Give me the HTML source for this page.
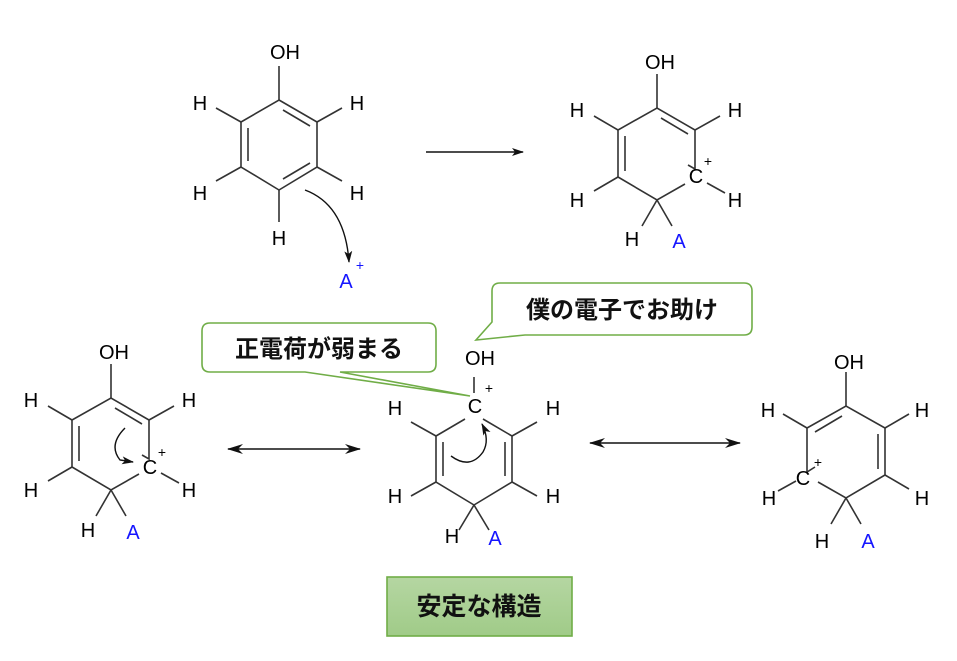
<!DOCTYPE html>
<html><head><meta charset="utf-8"><style>
body{margin:0;background:#fff;width:957px;height:661px;overflow:hidden}
svg{display:block}
.b{stroke:#333;stroke-width:1.6;fill:none}
.t{font-family:"Liberation Sans",sans-serif;font-size:20px;fill:#000;text-anchor:middle}
.a{fill:#1515ff}
.p{font-size:14px}
.j{font-family:"Liberation Sans","Noto Sans CJK JP",sans-serif;font-size:24px;font-weight:bold;fill:#111;text-anchor:middle}
</style></head><body>
<svg width="957" height="661" viewBox="0 0 957 661">
<defs>
<marker id="ah" markerWidth="12" markerHeight="8" refX="11" refY="4" orient="auto" markerUnits="userSpaceOnUse"><path d="M0,0 L12,4 L0,8 L3,4z" fill="#111"/></marker>
<marker id="ah2" markerWidth="16" markerHeight="10" refX="15" refY="5" orient="auto-start-reverse" markerUnits="userSpaceOnUse"><path d="M0,0 L16,5 L0,10 L5,5z" fill="#111"/></marker>
<linearGradient id="g" x1="0" y1="0" x2="0" y2="1"><stop offset="0" stop-color="#b5d6a2"/><stop offset="1" stop-color="#a0cb88"/></linearGradient>
</defs>

<!-- Molecule 1 -->
<g transform="translate(279,100)">
<path class="b" d="M0,0 L38,22 L38,67 L0,90 L-38,67 L-38,22 Z"/>
<path class="b" d="M4,10 L31,26 M-31,28 L-31,61 M31,63 L4,79"/>
<path class="b" d="M0,0 L0,-34 M-38,22 L-63,8 M38,22 L63,8 M-38,67 L-63,81 M38,67 L63,81 M0,90 L0,122"/>
</g>
<text class="t" x="285" y="59">OH</text>
<text class="t" x="200" y="110">H</text><text class="t" x="357" y="110">H</text>
<text class="t" x="200" y="200">H</text><text class="t" x="357" y="200">H</text>
<text class="t" x="279" y="245">H</text>
<text class="t a" x="346" y="288">A</text><text class="t a p" x="360" y="270">+</text>
<path d="M305,190 Q345,205 349,262" fill="none" stroke="#111" stroke-width="1.4" marker-end="url(#ah)"/>

<line x1="426" y1="152" x2="523" y2="152" stroke="#111" stroke-width="1.5" marker-end="url(#ah)"/>

<!-- Molecule 2 -->
<g transform="translate(657,108)">
<path class="b" d="M31,57 L38,61 L38,22 L0,0 L-39,22 L-39,69 L0,92 L28,76"/>
<path class="b" d="M4,10 L31,26 M-32,28 L-32,63"/>
<path class="b" d="M0,0 L0,-34 M-39,22 L-63,8 M38,22 L63,8 M-39,69 L-63,83 M50,75 L68,85 M0,92 L-15,118 M0,92 L15,118"/>
</g>
<text class="t" x="660" y="69">OH</text>
<text class="t" x="577" y="117">H</text><text class="t" x="735" y="117">H</text>
<text class="t" x="577" y="207">H</text><text class="t" x="735" y="207">H</text>
<text class="t" x="696" y="183">C</text><text class="t p" x="708" y="166">+</text>
<text class="t" x="632" y="246">H</text><text class="t a" x="679" y="248">A</text>

<!-- Left mol -->
<g transform="translate(111,398)">
<path class="b" d="M31,57 L38,61 L38,22 L0,0 L-39,22 L-39,69 L0,92 L28,76"/>
<path class="b" d="M4,10 L31,26 M-32,28 L-32,63"/>
<path class="b" d="M0,0 L0,-34 M-39,22 L-63,8 M38,22 L63,8 M-39,69 L-63,83 M50,75 L68,85 M0,92 L-15,118 M0,92 L15,118"/>
</g>
<text class="t" x="114" y="359">OH</text>
<text class="t" x="31" y="407">H</text><text class="t" x="189" y="407">H</text>
<text class="t" x="31" y="497">H</text><text class="t" x="189" y="497">H</text>
<text class="t" x="150" y="474">C</text><text class="t p" x="162" y="457">+</text>
<text class="t" x="88" y="537">H</text><text class="t a" x="133" y="539">A</text>
<path d="M125,428 Q108,445 120,460 L133,462" fill="none" stroke="#111" stroke-width="1.4" marker-end="url(#ah)"/>

<line x1="228" y1="449" x2="360" y2="449" stroke="#111" stroke-width="1.5" marker-start="url(#ah2)" marker-end="url(#ah2)"/>

<!-- Center mol -->
<g transform="translate(474,405)">
<path class="b" d="M-9,14 L-38,31 L-38,77 L0,100 L38,77 L38,31 L9,14"/>
<path class="b" d="M-31,37 L-31,71 M31,37 L31,71"/>
<path class="b" d="M0,-12 L0,-28 M-38,31 L-63,17 M38,31 L63,17 M-38,77 L-63,91 M38,77 L63,91 M0,100 L-15,125 M0,100 L15,125"/>
</g>
<text class="t" x="480" y="365">OH</text>
<text class="t" x="475" y="413">C</text><text class="t p" x="489" y="393">+</text>
<text class="t" x="395" y="415">H</text><text class="t" x="553" y="415">H</text>
<text class="t" x="395" y="503">H</text><text class="t" x="553" y="503">H</text>
<text class="t" x="452" y="543">H</text><text class="t a" x="495" y="545">A</text>
<path d="M451,456 Q470,470 483,452 Q490,440 482,424" fill="none" stroke="#111" stroke-width="1.4" marker-end="url(#ah)"/>

<line x1="590" y1="443" x2="740" y2="443" stroke="#111" stroke-width="1.5" marker-start="url(#ah2)" marker-end="url(#ah2)"/>

<!-- Right mol -->
<g transform="translate(846,406)">
<path class="b" d="M-31,61 L-39,66 L-39,22 L0,0 L39,22 L39,69 L0,92 L-28,76"/>
<path class="b" d="M-4,10 L-31,26 M32,28 L32,63"/>
<path class="b" d="M0,0 L0,-34 M-39,22 L-63,8 M39,22 L63,8 M39,69 L63,83 M-50,75 L-68,85 M0,92 L-15,118 M0,92 L15,118"/>
</g>
<text class="t" x="849" y="369">OH</text>
<text class="t" x="768" y="417">H</text><text class="t" x="922" y="417">H</text>
<text class="t" x="769" y="505">H</text><text class="t" x="922" y="505">H</text>
<text class="t" x="803" y="485">C</text><text class="t p" x="818" y="467">+</text>
<text class="t" x="822" y="548">H</text><text class="t a" x="868" y="548">A</text>

<!-- Callouts -->
<path d="M210,323 H428 Q436,323 436,331 V364 Q436,372 428,372 H340 L470,396 L305,372 H210 Q202,372 202,364 V331 Q202,323 210,323 Z" fill="#fff" stroke="#70ad47" stroke-width="1.6"/>
<text class="j" x="319" y="357">正電荷が弱まる</text>
<path d="M500,283 H744 Q752,283 752,291 V327 Q752,335 744,335 H525 L476,340 L492,322 V291 Q492,283 500,283 Z" fill="#fff" stroke="#70ad47" stroke-width="1.6"/>
<text class="j" x="622" y="318">僕の電子でお助け</text>

<rect x="387" y="577" width="185" height="59" fill="url(#g)" stroke="#70ad47" stroke-width="1.6"/>
<text class="j" x="479" y="615" style="font-size:25px">安定な構造</text>
</svg>
</body></html>
